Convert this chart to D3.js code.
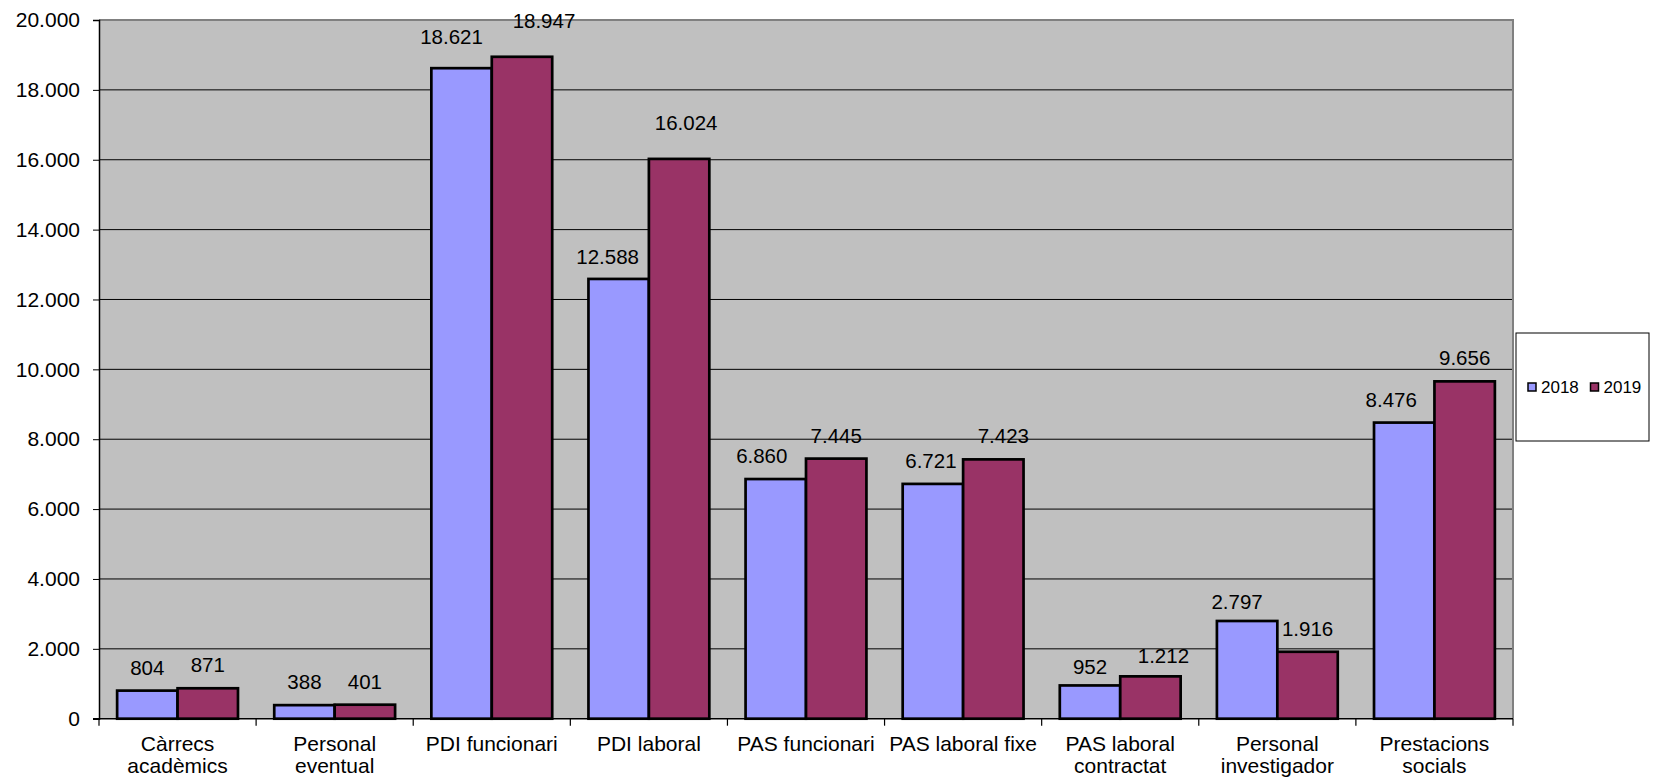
<!DOCTYPE html>
<html lang="ca">
<head>
<meta charset="utf-8">
<title>Despeses de personal 2018-2019</title>
<script src="https://d3js.org/d3.v7.min.js"></script>
<style>
  body { margin: 0; background: #fff; }
  text { font-family: "Liberation Sans", Arial, sans-serif; fill: #000; }
</style>
</head>
<body>
<script>
// data
var categories = [
  ["Càrrecs", "acadèmics"],
  ["Personal", "eventual"],
  ["PDI funcionari"],
  ["PDI laboral"],
  ["PAS funcionari"],
  ["PAS laboral fixe"],
  ["PAS laboral", "contractat"],
  ["Personal", "investigador"],
  ["Prestacions", "socials"]
];
var series = ["2018", "2019"];
var values2018 = [804, 388, 18621, 12588, 6860, 6721, 952, 2797, 8476];
var values2019 = [871, 401, 18947, 16024, 7445, 7423, 1212, 1916, 9656];
var yTicks = [0, 2000, 4000, 6000, 8000, 10000, 12000, 14000, 16000, 18000, 20000];
var colors = ["#9999ff", "#993366"];

// hand nudges for the data labels (they were dragged in the original)
var labelNudge2018 = [[0,0],[0,0],[-10,-8],[-11,1],[-14,0],[-2,0],[0,5],[-10,4],[-13,0]];
var labelNudge2019 = [[0,0],[0,0],[22,-13],[7,-13],[0,0],[10,0],[13,3],[0,0],[0,0]];

var w = 1656, h = 781;
var plot = {left: 99, right: 1513, top: 20, bottom: 718.7};

var fmt = d3.formatLocale({decimal: ",", thousands: ".", grouping: [3], currency: ["", "€"]}).format(",d");

var svg = d3.select("body").append("svg")
  .attr("width", w).attr("height", h);

var x = d3.scaleBand()
  .domain(d3.range(categories.length))
  .range([plot.left, plot.right])
  .padding(0);

var xs = d3.scaleBand()
  .domain(series)
  .range([0, x.bandwidth()])
  .paddingInner(0)
  .paddingOuter(0.3);

var y = d3.scaleLinear()
  .domain([0, 20000])
  .range([plot.bottom, plot.top]);

// plot background
svg.append("rect")
  .attr("x", plot.left).attr("y", plot.top)
  .attr("width", plot.right - plot.left)
  .attr("height", plot.bottom - plot.top)
  .attr("fill", "#c0c0c0");

// gridlines
svg.append("g").selectAll("line")
  .data(yTicks.slice(1, -1))
  .join("line")
  .attr("x1", plot.left).attr("x2", plot.right)
  .attr("y1", d => y(d)).attr("y2", d => y(d))
  .attr("stroke", "#000").attr("stroke-width", 1);

// top + right border
svg.append("path")
  .attr("d", `M${plot.left},${plot.top}H${plot.right}V${plot.bottom}`)
  .attr("fill", "none").attr("stroke", "#808080").attr("stroke-width", 2);

// bars
var table = series.map(function(s, si) {
  var vals = si == 0 ? values2018 : values2019;
  var nudge = si == 0 ? labelNudge2018 : labelNudge2019;
  return vals.map(function(v, i) { return {s: s, si: si, i: i, v: v, n: nudge[i]}; });
});

var groups = svg.append("g").selectAll("g")
  .data(table)
  .join("g");

groups.selectAll("rect")
  .data(d => d)
  .join("rect")
  .attr("x", d => x(d.i) + xs(d.s))
  .attr("y", d => y(d.v))
  .attr("width", xs.bandwidth())
  .attr("height", d => y(0) - y(d.v))
  .attr("fill", d => colors[d.si])
  .attr("stroke", "#000")
  .attr("stroke-width", 2.7);

// y axis
var yAxis = d3.axisLeft(y)
  .tickValues(yTicks)
  .tickSize(6)
  .tickPadding(13)
  .tickFormat(d => fmt(d));
var gy = svg.append("g")
  .attr("transform", `translate(${plot.left},0)`)
  .call(yAxis);
gy.select(".domain").attr("stroke", "#000").attr("stroke-width", 1.5);
gy.selectAll("text").style("font-size", "21px").attr("fill", "#000");

// x axis
var gx = svg.append("g")
  .attr("transform", `translate(0,${plot.bottom})`);
gx.append("line")
  .attr("x1", plot.left - 6).attr("x2", plot.right)
  .attr("stroke", "#000").attr("stroke-width", 1.5);
gx.selectAll("line.tick")
  .data(d3.range(categories.length + 1))
  .join("line")
  .attr("class", "tick")
  .attr("x1", d => plot.left + d * x.step())
  .attr("x2", d => plot.left + d * x.step())
  .attr("y1", 0).attr("y2", 7)
  .attr("stroke", "#000").attr("stroke-width", 1.2);

gx.selectAll("text.cat")
  .data(categories)
  .join("text")
  .attr("class", "cat")
  .attr("text-anchor", "middle")
  .style("font-size", "21px")
  .attr("transform", (d, i) => `translate(${x(i) + x.bandwidth() / 2},0)`)
  .selectAll("tspan")
  .data(d => d)
  .join("tspan")
  .attr("x", 0)
  .attr("y", (d, i) => 32 + i * 22)
  .text(d => d);

// data labels
groups.selectAll("text")
  .data(d => d)
  .join("text")
  .attr("text-anchor", "middle")
  .style("font-size", "20.5px")
  .attr("x", d => x(d.i) + xs(d.s) + xs.bandwidth() / 2 + d.n[0])
  .attr("y", d => y(d.v) - 16 + d.n[1])
  .text(d => fmt(d.v));

// legend
var lg = svg.append("g");
lg.append("rect")
  .attr("x", 1516).attr("y", 333)
  .attr("width", 133).attr("height", 108)
  .attr("fill", "#fff").attr("stroke", "#000").attr("stroke-width", 1);

var li = lg.selectAll("g.item")
  .data(series)
  .join("g")
  .attr("class", "item")
  .attr("transform", (d, i) => `translate(${1528 + i * 62.5},383)`);
li.append("rect")
  .attr("width", 8).attr("height", 8)
  .attr("fill", (d, i) => colors[i])
  .attr("stroke", "#000").attr("stroke-width", 1.5);
li.append("text")
  .attr("x", 13).attr("y", 10)
  .style("font-size", "17px")
  .text(d => d);
</script>
</body>
</html>
